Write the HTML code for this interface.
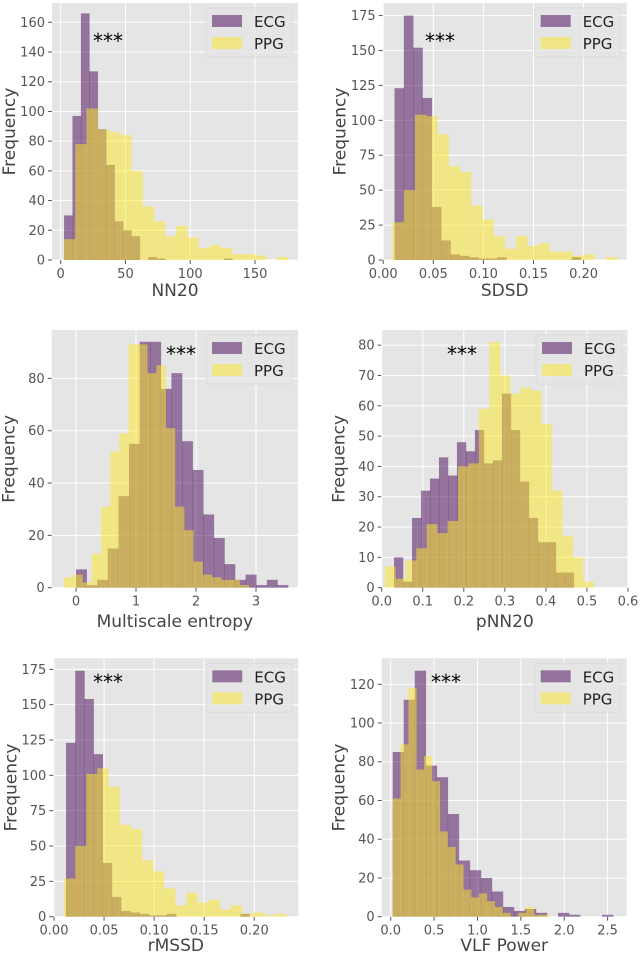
<!DOCTYPE html>
<html><head><meta charset="utf-8"><style>
html,body{margin:0;padding:0;background:#fff;}
svg{display:block;font-family:"DejaVu Sans","Liberation Sans",sans-serif;}
</style></head><body>
<svg id="chart" width="640" height="955" viewBox="0 0 640 955" xmlns="http://www.w3.org/2000/svg"></svg>
<script>
// ---- data ----
const nn20EcgStart = 2.6, nn20EcgWidth = 6.5;
const nn20Ecg = [30,97,166,127,88,64,26,20,16,0,2,1,0,0,0,0,0,0,0,1];
const nn20PpgStart = 2.6, nn20PpgWidth = 8.65;
const nn20Ppg = [14,78,102,88,86,84,60,36,26,16,23,15,8,10,8,4,4,3,0,2];

const sdsdEcgStart = 0.0113, sdsdEcgWidth = 0.0093;
const sdsdEcg = [123,175,152,116,38,14,4,3,2,1,1,2,0,0,0,0,0,0,0,2];
const sdsdPpgStart = 0.0093, sdsdPpgWidth = 0.0112;
const sdsdPpg = [27,50,104,103,90,67,63,39,29,17,8,17,10,12,6,6,3,4,0,2];

const mseEcgStart = 0.0, mseEcgWidth = 0.1767;
const mseEcg = [7,1,3,15,35,55,94,94,76,82,56,45,28,19,9,3,5,1,3,1];
const msePpgStart = -0.2, msePpgWidth = 0.154;
const msePpg = [4,5,2,13,31,52,59,93,93,82,85,61,31,22,10,5,4,3,3,1];

const pnnEcgStart = 0.030, pnnEcgWidth = 0.0219;
const pnnEcg = [10,2,23,32,36,43,37,48,45,52,41,42,64,52,35,23,15,15,5,5];
const pnnPpgStart = 0.008, pnnPpgWidth = 0.0254;
const pnnPpg = [7,3,9,13,21,18,22,40,41,59,81,70,64,66,65,54,32,17,10,2];

const rmssdEcgStart = 0.012, rmssdEcgWidth = 0.00917;
const rmssdEcg = [123,174,154,115,38,14,4,3,2,1,1,2,0,0,0,0,0,0,0,2];
const rmssdPpgStart = 0.010, rmssdPpgWidth = 0.0111;
const rmssdPpg = [27,50,101,105,92,65,62,40,32,20,8,17,10,12,5,8,2,3,1,2];

const vlfEcgStart = 0.023, vlfEcgWidth = 0.127;
const vlfEcg = [85,112,127,78,72,53,29,24,20,13,5,3,4,2,0,2,1,0,0,1];
const vlfPpgStart = 0.023, vlfPpgWidth = 0.0904;
const vlfPpg = [61,89,118,76,83,70,44,36,27,14,10,12,8,5,2,0,2,5,1,1];

const nn20XTicks = [0,50,100,150], nn20YTicks = [0,20,40,60,80,100,120,140,160];
const sdsdXTicks = [0,0.05,0.10,0.15,0.20], sdsdYTicks = [0,25,50,75,100,125,150,175];
const mseXTicks = [0,1,2,3], mseYTicks = [0,20,40,60,80];
const pnnXTicks = [0,0.1,0.2,0.3,0.4,0.5,0.6], pnnYTicks = [0,10,20,30,40,50,60,70,80];
const rmssdXTicks = [0,0.05,0.10,0.15,0.20], rmssdYTicks = [0,25,50,75,100,125,150,175];
const vlfXTicks = [0,0.5,1.0,1.5,2.0,2.5], vlfYTicks = [0,20,40,60,80,100,120];

// ---- layout ----
const panels = [
 {id:'nn20',label:'NN20',L:52,R:298,T:3,B:260,x0:-6.7,x1:183.2,y1:173,dec:0,xt:nn20XTicks,yt:nn20YTicks,
  ecg:nn20Ecg,es:nn20EcgStart,ew:nn20EcgWidth,ppg:nn20Ppg,ps:nn20PpgStart,pw:nn20PpgWidth,star:[93,48],xl:296},
 {id:'sdsd',label:'SDSD',L:382.7,R:626.7,T:3,B:260,x0:-0.0005,x1:0.243,y1:184,dec:2,xt:sdsdXTicks,yt:sdsdYTicks,
  ecg:sdsdEcg,es:sdsdEcgStart,ew:sdsdEcgWidth,ppg:sdsdPpg,ps:sdsdPpgStart,pw:sdsdPpgWidth,star:[425,48],xl:296},
 {id:'mse',label:'Multiscale entropy',L:51.7,R:298,T:330,B:587.7,x0:-0.405,x1:3.7,y1:98.5,dec:0,xt:mseXTicks,yt:mseYTicks,
  ecg:mseEcg,es:mseEcgStart,ew:mseEcgWidth,ppg:msePpg,ps:msePpgStart,pw:msePpgWidth,star:[166,361],xl:627},
 {id:'pnn20',label:'pNN20',L:381.7,R:628,T:330,B:587.7,x0:0,x1:0.6,y1:85,dec:1,xt:pnnXTicks,yt:pnnYTicks,
  ecg:pnnEcg,es:pnnEcgStart,ew:pnnEcgWidth,ppg:pnnPpg,ps:pnnPpgStart,pw:pnnPpgWidth,star:[447,361],xl:627},
 {id:'rmssd',label:'rMSSD',L:53.3,R:298.3,T:658.3,B:916.7,x0:-0.0007,x1:0.244,y1:182.8,dec:2,xt:rmssdXTicks,yt:rmssdYTicks,
  ecg:rmssdEcg,es:rmssdEcgStart,ew:rmssdEcgWidth,ppg:rmssdPpg,ps:rmssdPpgStart,pw:rmssdPpgWidth,star:[93,689],xl:951},
 {id:'vlf',label:'VLF Power',L:381.7,R:626.7,T:658.3,B:916.7,x0:-0.104,x1:2.72,y1:133.4,dec:1,xt:vlfXTicks,yt:vlfYTicks,
  ecg:vlfEcg,es:vlfEcgStart,ew:vlfEcgWidth,ppg:vlfPpg,ps:vlfPpgStart,pw:vlfPpgWidth,star:[431,689],xl:951}
];
const NS='http://www.w3.org/2000/svg';
const svg=document.getElementById('chart');
function mk(tag,attrs,parent){const e=document.createElementNS(NS,tag);for(const k in attrs)e.setAttribute(k,attrs[k]);(parent||svg).appendChild(e);return e;}

panels.forEach(p=>{
  const g=mk('g',{});
  
  
  const xs=v=>p.L+(v-p.x0)/(p.x1-p.x0)*(p.R-p.L);
  const ys=v=>p.B-v/p.y1*(p.B-p.T);
  const bg=mk('rect',{x:p.L,y:p.T,width:p.R-p.L,height:p.B-p.T,fill:'#e5e5e5'},g);
  
  
  p.yt.forEach(t=>{
    const y=ys(t);
    mk('line',{x1:p.L,x2:p.R,y1:y,y2:y,stroke:'#fff','stroke-width':1},g);
    mk('line',{x1:p.L-4,x2:p.L,y1:y,y2:y,stroke:'#555','stroke-width':1},g);
    const tx=mk('text',{x:p.L-7,y:y+4.5,'text-anchor':'end','font-size':13,fill:'#555'},g);
    tx.textContent=t;
    
    
  });
  p.xt.forEach(t=>{
    const x=xs(t);
    mk('line',{x1:x,x2:x,y1:p.T,y2:p.B,stroke:'#fff','stroke-width':1},g);
    mk('line',{x1:x,x2:x,y1:p.B,y2:p.B+4,stroke:'#555','stroke-width':1},g);
    const tx=mk('text',{x:x,y:p.B+18,'text-anchor':'middle','font-size':13,fill:'#555'},g);
    tx.textContent=t.toFixed(p.dec);
    
    
  });
  p.ecg.forEach((c,i)=>{
    if(!c)return;
    const a=xs(p.es+i*p.ew), b=xs(p.es+(i+1)*p.ew);
    const r=mk('rect',{x:a,y:ys(c),width:b-a+0.3,height:p.B-ys(c),fill:'#440154','fill-opacity':0.5},g);
    
    
  });
  p.ppg.forEach((c,i)=>{
    if(!c)return;
    const a=xs(p.ps+i*p.pw), b=xs(p.ps+(i+1)*p.pw);
    const r=mk('rect',{x:a,y:ys(c),width:b-a+0.3,height:p.B-ys(c),fill:'#fde725','fill-opacity':0.5},g);
    
    
  });
  const st=mk('text',{x:p.star[0],y:p.star[1],'font-size':20,fill:'#000'},g);
  st.textContent='***';
  
  
  // legend
  const lg=mk('g',{},g);
  
  
  const lx=p.R-92, ly=p.T+5;
  mk('rect',{x:lx,y:ly,width:86,height:49,rx:3,fill:'#e5e5e5',stroke:'#dcdcdc','fill-opacity':0.8},lg);
  mk('rect',{x:lx+6,y:ly+7,width:30,height:12,fill:'#440154','fill-opacity':0.5},lg);
  mk('rect',{x:lx+6,y:ly+29,width:30,height:12,fill:'#fde725','fill-opacity':0.5},lg);
  const t1=mk('text',{x:lx+48,y:ly+19,'font-size':15,fill:'#222'},lg); t1.textContent='ECG';
  
  
  const t2=mk('text',{x:lx+48,y:ly+41,'font-size':15,fill:'#222'},lg); t2.textContent='PPG';
  
  
  const xl=mk('text',{x:(p.L+p.R)/2,y:p.xl,'text-anchor':'middle','font-size':17,fill:'#444'},g);
  xl.textContent=p.label;
  
  
  const cy=(p.T+p.B)/2, cx=p.L-37;
  const yl=mk('text',{x:cx,y:cy,'text-anchor':'middle','font-size':17,fill:'#444',transform:'rotate(-90 '+cx+' '+cy+')'},g);
  yl.textContent='Frequency';
  
  
});
</script>
</body></html>
